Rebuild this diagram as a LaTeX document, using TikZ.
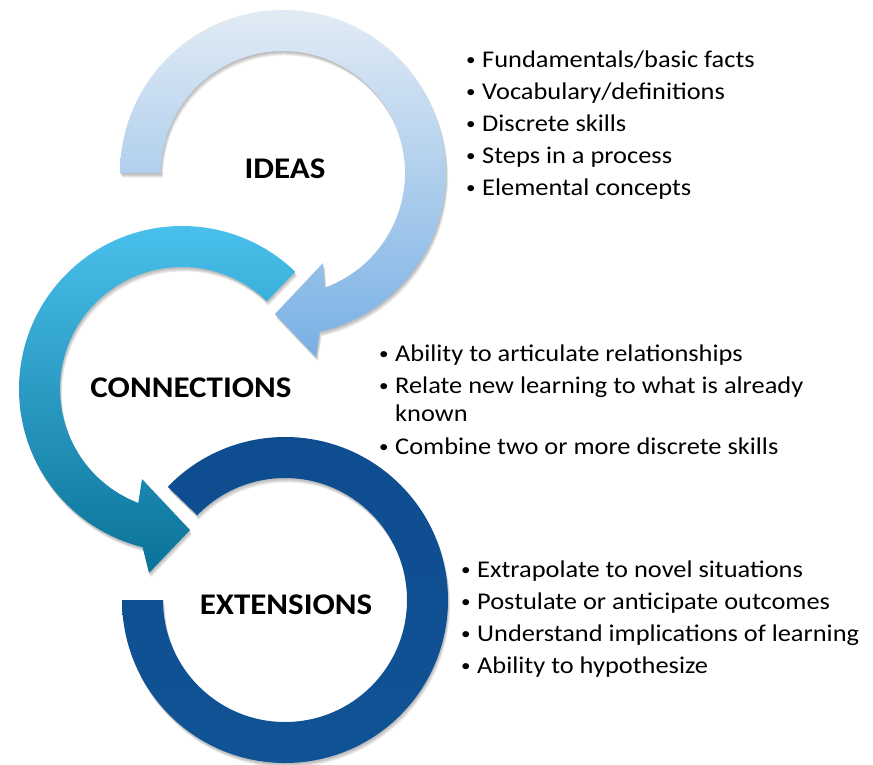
\documentclass[tikz,border=0pt]{standalone}
\usepackage{fontspec}
\usepackage{graphicx}
\setmainfont{Carlito}[FakeStretch=1.1]
\usetikzlibrary{calc}

\definecolor{ideastop}{HTML}{E2EBF5}
\definecolor{ideasmid}{HTML}{B0CEEC}
\definecolor{ideasbot}{HTML}{78B0E4}
\definecolor{conntop}{HTML}{4CC4F0}
\definecolor{connmid}{HTML}{17A2DC}
\definecolor{connbot}{HTML}{0A7298}
\definecolor{exttop}{HTML}{0E4C8E}
\definecolor{extbot}{HTML}{105496}

\newcommand\listbullet{\makebox[17pt][l]{\hspace{1pt}\raisebox{1.6pt}{\scalebox{0.72}{\textbullet}}}}

\tikzset{
  heading/.style={inner sep=0pt, font=\fontsize{30}{32}\selectfont\bfseries},
  itemlist/.style={inner sep=0pt, anchor=base west, align=left,
    font=\fontsize{24}{32}\selectfont},
  ringshadow/.style={black, opacity=0.07},
}

% Ring outlines (centres at (283,-173), (182,-389), (285,-600))
\def\ideaspath{([shift={(180:163)}]283,-173)
  arc[start angle=180,end angle=-77,radius=163]
  -- (316,-357) -- (275,-314) -- (323,-263)
  -- ([shift={(-70:122)}]283,-173)
  arc[start angle=-70,end angle=180,radius=122] -- cycle}
\def\connpath{([shift={(46:163)}]182,-389)
  arc[start angle=46,end angle=256,radius=163]
  -- (149,-573) -- (190,-530) -- (142,-479)
  -- ([shift={(249:122)}]182,-389)
  arc[start angle=249,end angle=46,radius=122] -- cycle}
\def\extpath{([shift={(136:163)}]285,-600)
  arc[start angle=136,end angle=-180,radius=163]
  -- ([shift={(180:122)}]285,-600)
  arc[start angle=-180,end angle=136,radius=122] -- cycle}

\begin{document}
\begin{tikzpicture}[x=1pt,y=1pt]
\useasboundingbox (0,0) rectangle (873,-764);

% soft drop shadows
\foreach \dx/\dy in {0.5/-1.5,1/-2.5,1.5/-3.5,2/-4.5}{
  \begin{scope}[transform canvas={shift={(\dx pt,\dy pt)}}]
    \fill[ringshadow] \ideaspath;
    \fill[ringshadow] \connpath;
    \fill[ringshadow] \extpath;
  \end{scope}
}

% the three circular arrows
\shade[top color=ideastop, middle color=ideasmid, bottom color=ideasbot] \ideaspath;
\shade[top color=conntop, middle color=connmid, bottom color=connbot] \connpath;
\shade[top color=exttop, bottom color=extbot] \extpath;

% headings
\node[heading] (ideas) at (285,-169) {IDEAS};
\node[heading] (conn) at (191,-388) {CONNECTIONS};
\node[heading] (ext) at (286,-605) {EXTENSIONS};

% bullet lists
\node[itemlist] (ideaslist) at (465,-67) {\begin{tabular}[t]{@{}l@{}l@{}}
\listbullet & Fundamentals/basic facts\\
\listbullet & Vocabulary/definitions\\
\listbullet & Discrete skills\\
\listbullet & Steps in a process\\
\listbullet & Elemental concepts
\end{tabular}};

\node[itemlist] (connlist) at (378,-361) {\begin{tabular}[t]{@{}l@{}l@{}}
\listbullet & Ability to articulate relationships\\
\listbullet & Relate new learning to what is already\\[-4pt]
 & known\\[1pt]
\listbullet & Combine two or more discrete skills
\end{tabular}};

\node[itemlist] (extlist) at (460,-577) {\begin{tabular}[t]{@{}l@{}l@{}}
\listbullet & Extrapolate to novel situations\\
\listbullet & Postulate or anticipate outcomes\\
\listbullet & Understand implications of learning\\
\listbullet & Ability to hypothesize
\end{tabular}};
\end{tikzpicture}
\end{document}
